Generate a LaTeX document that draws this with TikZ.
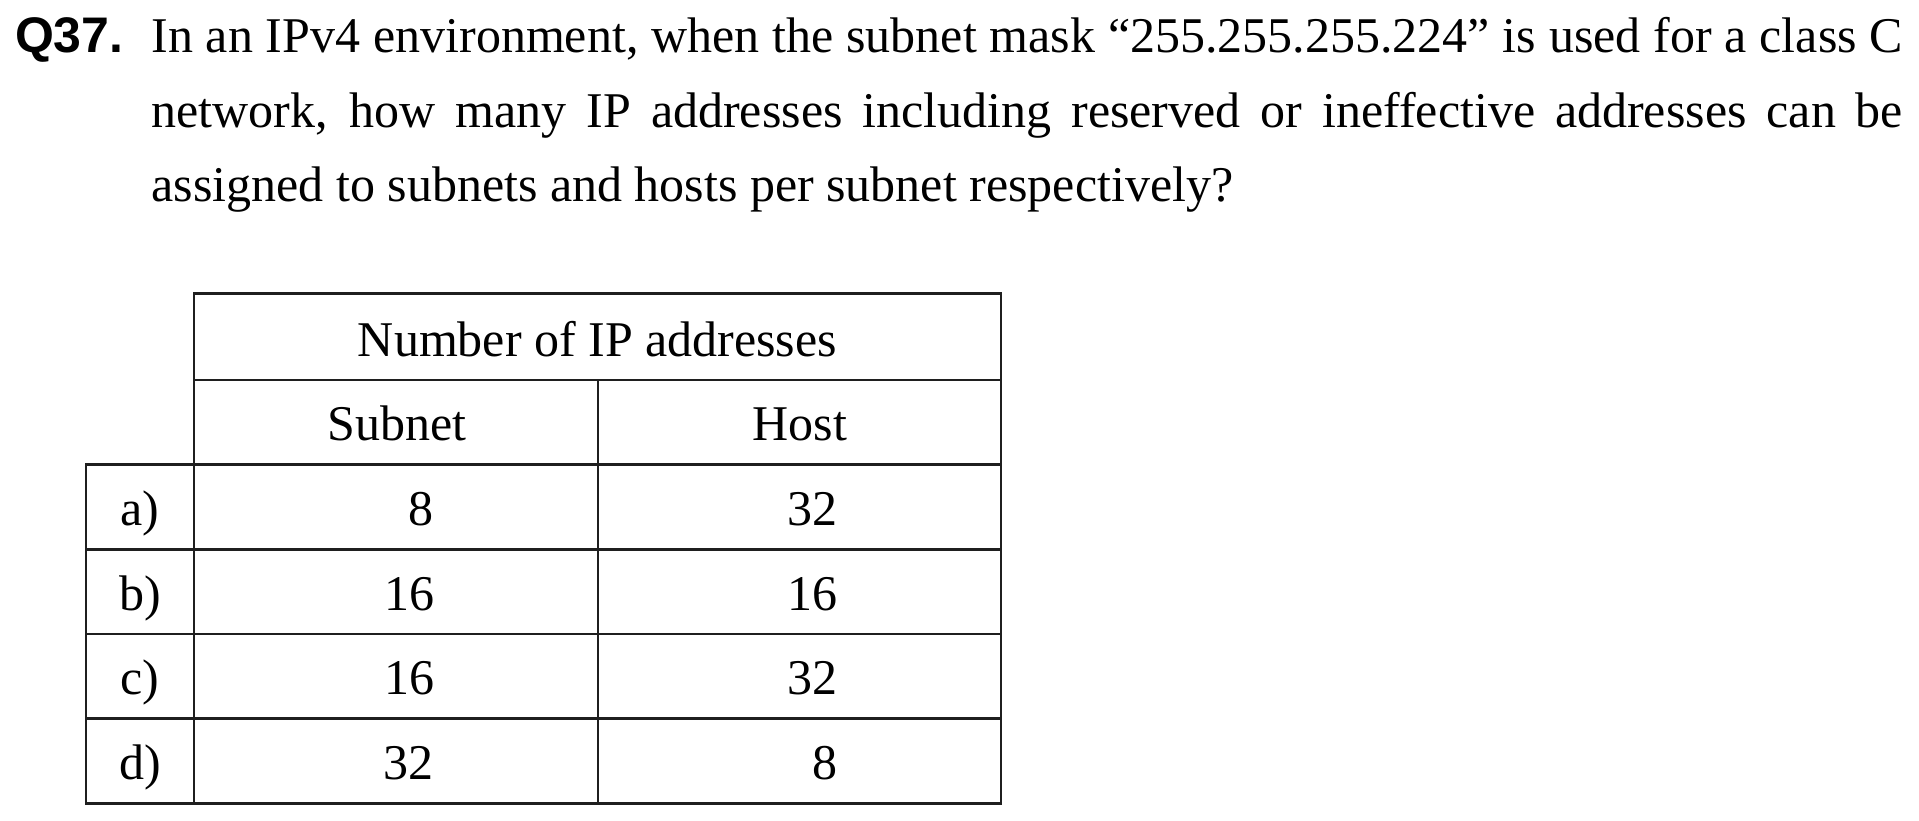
\documentclass[tikz,border=0pt]{standalone}
\usepackage{fontspec}
\setmainfont{Liberation Serif}
\newfontfamily\qfont{Liberation Sans}
\begin{document}
\begin{tikzpicture}[x=1pt,y=-1pt,
  txt/.style={inner sep=0pt,outer sep=0pt,anchor=base,font=\fontsize{50}{60}\selectfont},
  txtw/.style={txt,anchor=base west},
  grid/.style={line width=2.2pt,draw=black!88,line cap=rect}]
\useasboundingbox (0,0) rectangle (1919,821);
% question
\node[txtw,font=\fontsize{50}{60}\qfont\bfseries] (q) at (15,52.3) {Q37.};
\node[txtw] (l1) at (151.5,52.3) {\makebox[1751.5pt][s]{In an IPv4 environment, when the subnet mask “255.255.255.224” is used for a class C}};
\node[txtw] (l2) at (151.5,127.3) {\makebox[1751.5pt][s]{network, how many IP addresses including reserved or ineffective addresses can be}};
\node[txtw] (l3) at (151.5,202) {assigned to subnets and hosts per subnet respectively?};
% table lines
\draw[grid] (194,380) -- (194,293.5) -- (1001,293.5) -- (1001,803.5);
\draw[grid] (194,380) -- (1001,380);
\draw[grid] (86,464.5) -- (1001,464.5);
\draw[grid] (86,549.5) -- (1001,549.5);
\draw[grid] (86,634) -- (1001,634);
\draw[grid] (86,718.5) -- (1001,718.5);
\draw[grid] (86,803.5) -- (1001,803.5);
\draw[grid] (86,464.5) -- (86,803.5);
\draw[grid] (194,380) -- (194,803.5);
\draw[grid] (598,380) -- (598,803.5);
% table texts
\node[txt] (hdr) at (597.5,356) {Number of IP addresses};
\node[txt] (hs) at (397,440.5) {Subnet};
\node[txt] (hh) at (800,440.5) {Host};
\node[txt] (la) at (140,525.5) {a)};
\node[txt] (lb) at (140,610) {b)};
\node[txt] (lc) at (140,694.5) {c)};
\node[txt] (ld) at (140,779.5) {d)};
\node[txt] (sa) at (421,525.5) {8};
\node[txt] (sb) at (409,610) {16};
\node[txt] (sc) at (409,694.5) {16};
\node[txt] (sd) at (408,779.5) {32};
\node[txt] (ha) at (812,525.5) {32};
\node[txt] (hb) at (812.5,610) {16};
\node[txt] (hc) at (812,694.5) {32};
\node[txt] (hd) at (825,779.5) {8};
\end{tikzpicture}
\end{document}
